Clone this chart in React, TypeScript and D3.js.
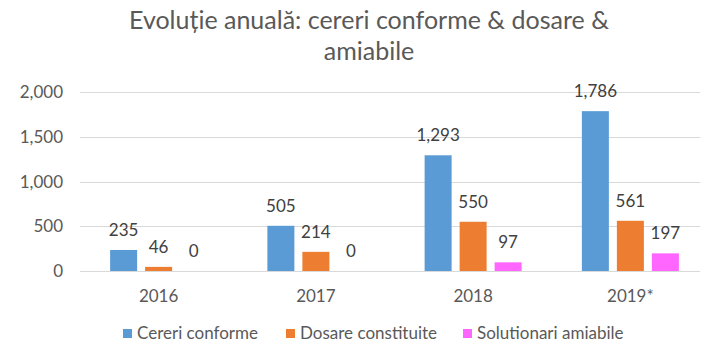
import React, { useEffect, useRef } from 'react';
import * as d3 from 'd3';

const categories = ['2016', '2017', '2018', '2019*'];
const seriesNames = ['Cereri conforme', 'Dosare constituite', 'Solutionari amiabile'];
const cereriConforme = [235, 505, 1293, 1786];
const dosareConstituite = [46, 214, 550, 561];
const solutionariAmiabile = [0, 0, 97, 197];
const yTicks = [0, 500, 1000, 1500, 2000];
const colors = ['#5B9BD5', '#ED7D31', '#FF66FF'];

export default function App() {
  const chartRef = useRef<HTMLDivElement>(null);

  useEffect(() => {
    document.body.style.margin = '0';
    const width = 707;
    const height = 353;
    const font = 'Lato, "Open Sans", sans-serif';

    d3.select(chartRef.current).select('svg').remove();

    const svg = d3
      .select(chartRef.current)
      .append('svg')
      .attr('width', width)
      .attr('height', height)
      .style('display', 'block')
      .style('font-family', font);

    svg.append('rect').attr('width', width).attr('height', height).attr('fill', '#fff');

    // title, two lines
    const title = svg
      .append('text')
      .attr('text-anchor', 'middle')
      .attr('fill', '#595959')
      .attr('font-size', 25);
    title.append('tspan').attr('x', 369).attr('y', 29).text('Evoluție anuală: cereri conforme & dosare &');
    title.append('tspan').attr('x', 369).attr('y', 60).text('amiabile');

    const plotLeft = 80;
    const plotRight = 709;

    const x0 = d3.scaleBand().domain(categories).range([plotLeft, plotRight]);
    const groupWidth = 97;
    const x1 = d3
      .scaleBand()
      .domain(seriesNames)
      .range([0, groupWidth])
      .paddingInner(0.2286);
    const y = d3.scaleLinear().domain([0, 2000]).range([271, 92]);

    // gridlines
    svg
      .append('g')
      .selectAll('line')
      .data(yTicks)
      .enter()
      .append('line')
      .attr('x1', plotLeft)
      .attr('x2', 700)
      .attr('y1', (d) => Math.round(y(d)) + 0.5)
      .attr('y2', (d) => Math.round(y(d)) + 0.5)
      .attr('stroke', '#d9d9d9')
      .attr('stroke-width', 1);

    // y tick labels
    svg
      .append('g')
      .selectAll('text')
      .data(yTicks)
      .enter()
      .append('text')
      .attr('x', 63)
      .attr('y', (d) => y(d) + 6)
      .attr('text-anchor', 'end')
      .attr('fill', '#595959')
      .attr('font-size', 17)
      .text((d) => d3.format(',')(d));

    const table = categories.map((c, i) => ({
      category: c,
      values: [cereriConforme[i], dosareConstituite[i], solutionariAmiabile[i]].map((v, j) => ({
        name: seriesNames[j],
        value: v,
        color: colors[j],
      })),
    }));

    const groups = svg
      .append('g')
      .selectAll('g')
      .data(table)
      .enter()
      .append('g')
      .attr(
        'transform',
        (d) => `translate(${x0(d.category)! + x0.bandwidth() / 2 - groupWidth / 2},0)`
      );

    groups
      .selectAll('rect')
      .data((d) => d.values)
      .enter()
      .append('rect')
      .attr('x', (d) => x1(d.name)!)
      .attr('width', x1.bandwidth())
      .attr('y', (d) => y(d.value))
      .attr('height', (d) => y(0) - y(d.value))
      .attr('fill', (d) => d.color);

    groups
      .selectAll('text')
      .data((d) => d.values)
      .enter()
      .append('text')
      .attr('x', (d) => x1(d.name)! + x1.bandwidth() / 2)
      .attr('y', (d) => y(d.value) - 14)
      .attr('text-anchor', 'middle')
      .attr('fill', '#404040')
      .attr('font-size', 17)
      .text((d) => d3.format(',')(d.value));

    // x axis labels
    svg
      .append('g')
      .selectAll('text')
      .data(categories)
      .enter()
      .append('text')
      .attr('x', (d) => x0(d)! + x0.bandwidth() / 2)
      .attr('y', 302)
      .attr('text-anchor', 'middle')
      .attr('fill', '#595959')
      .attr('font-size', 17)
      .text((d) => d);

    // legend
    const legendX = [123, 286, 463];
    const legend = svg
      .append('g')
      .selectAll('g')
      .data(seriesNames)
      .enter()
      .append('g')
      .attr('transform', (d, i) => `translate(${legendX[i]},0)`);
    legend
      .append('rect')
      .attr('y', 329)
      .attr('width', 9)
      .attr('height', 9)
      .attr('fill', (d, i) => colors[i]);
    legend
      .append('text')
      .attr('x', 14)
      .attr('y', 339)
      .attr('fill', '#595959')
      .attr('font-size', 17)
      .text((d) => d);
  }, []);

  return <div ref={chartRef}></div>;
}
